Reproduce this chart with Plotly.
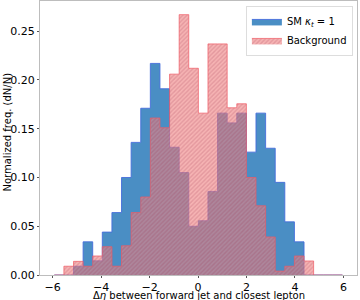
import plotly.graph_objects as go

# Bin edges (30 bins) of delta-eta between forward jet and closest lepton
bin_edges = [-5.93, -5.534, -5.137, -4.741, -4.345, -3.949, -3.552, -3.156, -2.760, -2.363,
             -1.967, -1.571, -1.174, -0.778, -0.382, 0.015, 0.411, 0.807, 1.203, 1.600,
             1.996, 2.392, 2.789, 3.185, 3.581, 3.978, 4.374, 4.770, 5.166, 5.563, 5.959]

signal_freq = [0.0, 0.0, 0.009, 0.034, 0.0145, 0.044, 0.064, 0.100, 0.136, 0.171,
               0.217, 0.191, 0.131, 0.105, 0.050, 0.0556, 0.0857, 0.166, 0.156, 0.166,
               0.126, 0.166, 0.130, 0.095, 0.0545, 0.034, 0.0, 0.0, 0.0, 0.0]

background_freq = [0.0, 0.009, 0.014, 0.009, 0.0195, 0.029, 0.009, 0.030, 0.064, 0.080,
                   0.161, 0.151, 0.206, 0.267, 0.212, 0.166, 0.237, 0.237, 0.1715, 0.1756,
                   0.100, 0.071, 0.039, 0.004, 0.009, 0.0195, 0.0144, 0.0, 0.0, 0.0]

x_ticks = [-6, -4, -2, 0, 2, 4, 6]
x_tick_text = ["\u22126", "\u22124", "\u22122", "0", "2", "4", "6"]
y_ticks = [0.0, 0.05, 0.10, 0.15, 0.20, 0.25]
y_tick_text = ["0.00", "0.05", "0.10", "0.15", "0.20", "0.25"]


def step_xy(edges, vals):
    xs = list(edges)
    ys = list(vals) + [vals[-1]]
    return xs, ys


fig = go.Figure()

sx, sy = step_xy(bin_edges, signal_freq)
fig.add_trace(go.Scatter(
    x=sx, y=sy, mode="lines", line=dict(shape="hv", color="rgba(70,110,220,0.9)", width=1),
    fill="tozeroy", fillcolor="rgb(74,142,196)",
    name="SM <i>\u03ba</i><sub><i>t</i></sub> = 1",
))

bx, by = step_xy(bin_edges, background_freq)
fig.add_trace(go.Scatter(
    x=bx, y=by, mode="lines", line=dict(shape="hv", color="rgba(240,90,100,0.7)", width=1),
    fill="tozeroy", fillcolor="rgba(240,128,128,0.6)",
    fillpattern=dict(shape="/", bgcolor="rgba(240,128,128,0.6)",
                     fgcolor="rgba(150,40,70,0.4)", size=3, solidity=0.45),
    name="Background",
))

axis_common = dict(showgrid=False, zeroline=False, showline=True, linecolor="#bdbdbd",
                   linewidth=1, mirror=True, ticks="outside", ticklen=2, tickcolor="#555",
                   tickfont=dict(family="DejaVu Sans", size=11, color="black"))

fig.update_xaxes(range=[-6.52, 6.56], tickvals=x_ticks, ticktext=x_tick_text, **axis_common)
fig.update_yaxes(range=[0, 0.281], tickvals=y_ticks, ticktext=y_tick_text, **axis_common)

fig.add_annotation(text="\u0394<i>\u03b7</i> between forward jet and closest lepton",
                   xref="paper", yref="paper", x=0.5, y=-0.075, xanchor="center", yanchor="middle",
                   showarrow=False, font=dict(family="DejaVu Sans", size=10, color="black"))
fig.add_annotation(text="Normalized freq. (dN/N)", textangle=-90,
                   xref="paper", yref="paper", x=-0.104, y=0.52, xanchor="center", yanchor="middle",
                   showarrow=False, font=dict(family="DejaVu Sans", size=10, color="black"))

fig.update_layout(
    width=360, height=300,
    margin=dict(l=40, r=3, t=1, b=25),
    plot_bgcolor="white", paper_bgcolor="white",
    font=dict(family="DejaVu Sans", size=11, color="black"),
    legend=dict(x=0.987, y=0.982, xanchor="right", yanchor="top",
                bgcolor="rgba(255,255,255,0.8)", bordercolor="#dddddd", borderwidth=1,
                font=dict(family="DejaVu Sans", size=10), itemwidth=30,
                tracegroupgap=0),
    showlegend=True,
)

fig.write_html("out.html", config={"displayModeBar": False},
               post_script="document.body.style.margin='0';")
